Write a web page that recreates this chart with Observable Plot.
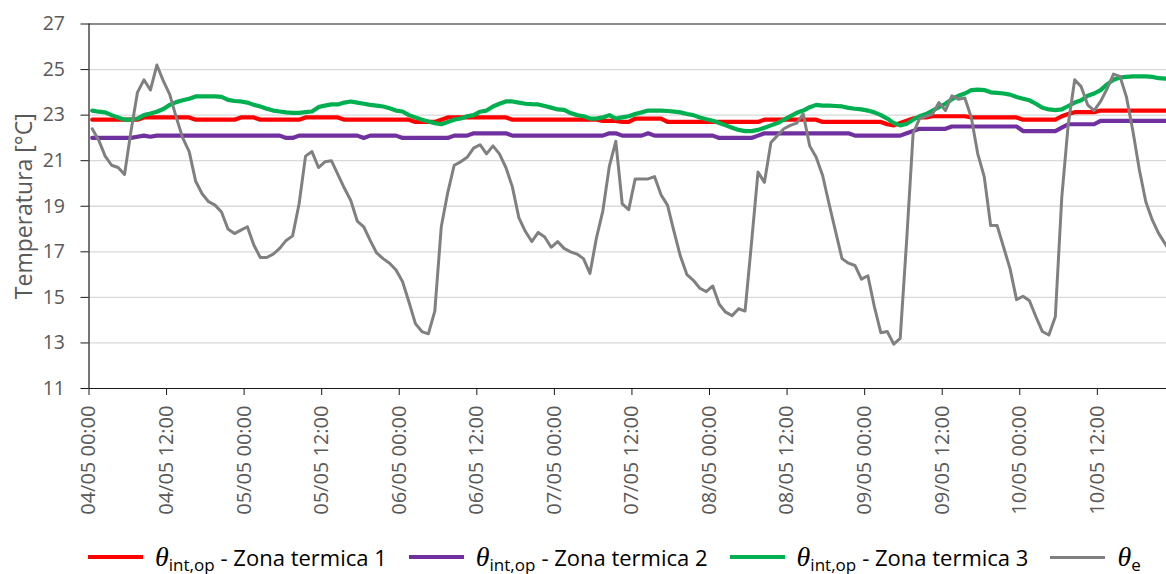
<!DOCTYPE html>
<html><head><meta charset="utf-8">
<script src="https://cdn.jsdelivr.net/npm/d3@7"></script>
<script src="https://cdn.jsdelivr.net/npm/@observablehq/plot@0.6"></script>
<style>
body{margin:0;background:#fff;}
#wrap{width:1166px;}
#legend{display:flex;align-items:center;height:34px;padding-left:88px;font-family:"Open Sans";font-size:22px;color:#000;white-space:nowrap;}
.item{display:flex;align-items:center;margin-right:22px;}
.sw{display:inline-block;width:55px;height:4px;margin-right:12px;}
.th{font-family:"Liberation Serif";font-style:italic;font-size:28px;}
.sub{font-size:17px;position:relative;top:7px;margin-right:6px;}
</style></head>
<body><div id="wrap"><div id="chart"></div><div id="legend"></div></div>
<script>
// hourly samples starting 04/05 (each sample centred on the half hour)
const startTime = Date.UTC(2021, 4, 4, 0, 0);
const visibleHours = 166.7;

const zone1 = [
22.8,22.8,22.8,22.8,22.8,22.8,22.8,22.8,22.9,22.9,22.9,22.9,
22.9,22.9,22.9,22.9,22.8,22.8,22.8,22.8,22.8,22.8,22.8,22.9,
22.9,22.9,22.8,22.8,22.8,22.8,22.8,22.8,22.8,22.9,22.9,22.9,
22.9,22.9,22.9,22.8,22.8,22.8,22.8,22.8,22.8,22.8,22.8,22.8,
22.8,22.8,22.7,22.7,22.7,22.7,22.8,22.9,22.9,22.9,22.9,22.9,
22.9,22.9,22.9,22.9,22.9,22.8,22.8,22.8,22.8,22.8,22.8,22.8,
22.8,22.8,22.8,22.8,22.8,22.8,22.8,22.75,22.75,22.75,22.7,22.7,
22.85,22.85,22.85,22.85,22.85,22.7,22.7,22.7,22.7,22.7,22.7,22.7,
22.7,22.7,22.7,22.7,22.7,22.7,22.7,22.7,22.8,22.8,22.8,22.8,
22.8,22.8,22.8,22.8,22.8,22.7,22.7,22.7,22.7,22.7,22.7,22.7,
22.7,22.7,22.7,22.6,22.55,22.65,22.75,22.85,22.9,22.9,22.95,22.95,
22.95,22.95,22.95,22.95,22.9,22.9,22.9,22.9,22.9,22.9,22.9,22.9,
22.8,22.8,22.8,22.8,22.8,22.8,22.95,23.05,23.13,23.13,23.13,23.13,
23.2,23.2,23.2,23.2,23.2,23.2,23.2,23.2,23.2,23.2,23.2,23.2];

const zone2 = [
22.0,22.0,22.0,22.0,22.0,22.0,22.0,22.05,22.1,22.05,22.1,22.1,
22.1,22.1,22.1,22.1,22.1,22.1,22.1,22.1,22.1,22.1,22.1,22.1,
22.1,22.1,22.1,22.1,22.1,22.1,22.0,22.0,22.1,22.1,22.1,22.1,
22.1,22.1,22.1,22.1,22.1,22.1,22.0,22.1,22.1,22.1,22.1,22.1,
22.0,22.0,22.0,22.0,22.0,22.0,22.0,22.0,22.1,22.1,22.1,22.2,
22.2,22.2,22.2,22.2,22.2,22.1,22.1,22.1,22.1,22.1,22.1,22.1,
22.1,22.1,22.1,22.1,22.1,22.1,22.1,22.1,22.2,22.2,22.1,22.1,
22.1,22.1,22.2,22.1,22.1,22.1,22.1,22.1,22.1,22.1,22.1,22.1,
22.1,22.0,22.0,22.0,22.0,22.0,22.0,22.1,22.2,22.2,22.2,22.2,
22.2,22.2,22.2,22.2,22.2,22.2,22.2,22.2,22.2,22.2,22.1,22.1,
22.1,22.1,22.1,22.1,22.1,22.1,22.2,22.3,22.4,22.4,22.4,22.4,
22.4,22.5,22.5,22.5,22.5,22.5,22.5,22.5,22.5,22.5,22.5,22.5,
22.3,22.3,22.3,22.3,22.3,22.3,22.45,22.6,22.6,22.6,22.6,22.6,
22.75,22.75,22.75,22.75,22.75,22.75,22.75,22.75,22.75,22.75,22.75,22.75];

const zone3 = [
23.2,23.15,23.12,23.0,22.9,22.8,22.8,22.85,23.0,23.07,23.15,23.27,
23.45,23.57,23.65,23.72,23.82,23.82,23.82,23.82,23.8,23.67,23.62,23.6,
23.55,23.45,23.38,23.28,23.2,23.16,23.12,23.1,23.1,23.13,23.16,23.35,
23.42,23.47,23.47,23.55,23.6,23.55,23.5,23.45,23.42,23.38,23.3,23.2,
23.16,23.0,22.9,22.8,22.72,22.65,22.6,22.7,22.8,22.85,22.95,23.0,
23.15,23.2,23.38,23.5,23.6,23.6,23.55,23.5,23.48,23.47,23.4,23.33,
23.25,23.23,23.09,23.0,22.95,22.85,22.85,22.9,23.0,22.85,22.9,22.95,
23.05,23.12,23.2,23.2,23.2,23.18,23.15,23.12,23.05,23.0,22.9,22.82,
22.75,22.65,22.55,22.45,22.35,22.3,22.3,22.35,22.45,22.55,22.65,22.8,
22.95,23.1,23.2,23.35,23.45,23.42,23.42,23.4,23.38,23.32,23.28,23.25,
23.2,23.12,23.0,22.85,22.65,22.55,22.62,22.8,22.95,23.05,23.2,23.35,
23.5,23.7,23.85,23.95,24.1,24.12,24.1,24.0,23.98,23.95,23.9,23.8,
23.72,23.65,23.5,23.32,23.25,23.22,23.25,23.4,23.55,23.65,23.85,23.95,
24.1,24.35,24.55,24.65,24.68,24.7,24.7,24.7,24.68,24.62,24.6,24.6];

const thetaE = [
22.4,21.9,21.2,20.8,20.7,20.4,22.3,24.0,24.55,24.1,25.2,24.5,
23.9,22.9,22.0,21.4,20.1,19.55,19.2,19.05,18.75,18.0,17.8,17.95,
18.1,17.3,16.75,16.75,16.9,17.15,17.5,17.7,19.1,21.2,21.4,20.7,
20.95,21.0,20.4,19.8,19.25,18.35,18.1,17.5,16.95,16.7,16.5,16.2,
15.7,14.8,13.85,13.5,13.4,14.4,18.1,19.6,20.8,20.95,21.15,21.55,
21.7,21.3,21.65,21.3,20.7,19.85,18.5,17.9,17.45,17.85,17.65,17.2,
17.45,17.15,17.0,16.9,16.7,16.05,17.6,18.8,20.75,21.85,19.1,18.85,
20.2,20.2,20.2,20.3,19.5,19.05,17.9,16.8,16.0,15.75,15.4,15.25,
15.5,14.7,14.35,14.2,14.5,14.4,17.4,20.5,20.05,21.8,22.1,22.4,
22.55,22.65,23.05,21.65,21.15,20.35,19.1,17.9,16.7,16.5,16.4,15.8,
15.95,14.6,13.45,13.5,12.95,13.2,17.5,22.2,22.85,22.95,23.05,23.55,
23.2,23.85,23.7,23.75,22.9,21.3,20.3,18.15,18.15,17.2,16.25,14.9,
15.05,14.85,14.15,13.5,13.35,14.15,19.4,22.6,24.55,24.25,23.45,23.2,
23.6,24.15,24.8,24.7,23.8,22.3,20.6,19.2,18.4,17.8,17.35,16.9];

const seriesLabels = [
  {sym: "θ", sub: "int,op", text: "- Zona termica 1"},
  {sym: "θ", sub: "int,op", text: "- Zona termica 2"},
  {sym: "θ", sub: "int,op", text: "- Zona termica 3"},
  {sym: "θ", sub: "e", text: ""}
];
const seriesColors = ["#ff0000", "#7030a0", "#00b050", "#808080"];
const seriesWidths = [4.2, 4.2, 4.2, 3];
const yTicks = [11, 13, 15, 17, 19, 21, 23, 25, 27];
const yLabel = "Temperatura [°C]";

const hour = 3600000;
const t0 = new Date(startTime);
const t1 = new Date(startTime + visibleHours * hour);
const toRows = (vals) => vals.map((v, i) => ({t: new Date(startTime + (i + 0.5) * hour), v}));
const allSeries = [zone1, zone2, zone3, thetaE];
const xTicks = d3.utcHour.every(12).range(t0, t1);

const chart = Plot.plot({
  width: 1166,
  height: 540,
  marginLeft: 88.5,
  marginRight: 0,
  marginTop: 23.5,
  marginBottom: 152,
  style: {fontFamily: "Open Sans", fontSize: "19px", color: "#595959", background: "#fff"},
  x: {type: "utc", domain: [t0, t1]},
  y: {domain: [11, 27]},
  marks: [
    Plot.ruleY(yTicks.slice(1, -1), {stroke: "#d9d9d9", strokeWidth: 1.3}),
    ...allSeries.map((vals, k) => Plot.line(toRows(vals), {
      x: "t", y: "v", stroke: seriesColors[k], strokeWidth: seriesWidths[k],
      strokeLinejoin: "round", strokeLinecap: "round", clip: true
    })),
    Plot.ruleY([27, 11], {stroke: "#1a1a1a", strokeWidth: 1.2}),
    Plot.ruleX([t0], {stroke: "#1a1a1a", strokeWidth: 1.2}),
    Plot.axisY({ticks: yTicks, tickSize: 8, tickPadding: 16, stroke: "#1a1a1a", fill: "#595959", fontSize: 19.5, label: null}),
    Plot.axisX({ticks: xTicks, tickFormat: d3.utcFormat("%d/%m %H:%M"), tickRotate: -90, tickSize: 7, tickPadding: 10,
      stroke: "#1a1a1a", fill: "#595959", fontSize: 20, label: null}),
    Plot.text([yLabel], {text: d => d, frameAnchor: "left", textAnchor: "middle", rotate: -90, dx: -64, fontSize: 23, fill: "#595959"})
  ]
});
document.getElementById("chart").appendChild(chart);

const legend = document.getElementById("legend");
seriesLabels.forEach((s, k) => {
  const item = document.createElement("div");
  item.className = "item";
  const sw = document.createElement("span");
  sw.className = "sw";
  sw.style.background = seriesColors[k];
  sw.style.height = (k === 3 ? 3 : 4) + "px";
  const th = document.createElement("span");
  th.className = "th";
  th.textContent = s.sym;
  const sub = document.createElement("span");
  sub.className = "sub";
  sub.textContent = s.sub;
  const tx = document.createElement("span");
  tx.textContent = s.text;
  tx.style.whiteSpace = "pre";
  item.append(sw, th, sub, tx);
  legend.appendChild(item);
});
</script>
</body></html>
